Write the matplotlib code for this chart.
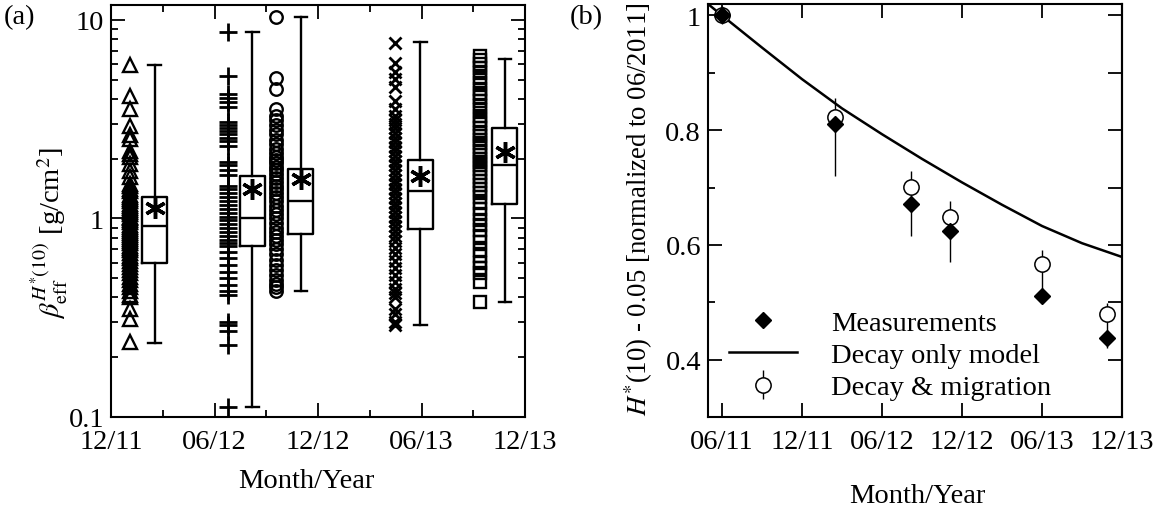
import matplotlib
matplotlib.use('Agg')
import matplotlib.pyplot as plt
from matplotlib.ticker import NullFormatter, LogLocator

plt.rcParams['font.family'] = ['Liberation Serif', 'DejaVu Serif']
plt.rcParams['mathtext.fontset'] = 'stix'

# ---- panel (a): effective depth per survey (x in months since 12/2011) ----
tri_x = 1.1
tri_vals = [5.95, 4.15, 3.57, 2.93, 2.62, 2.52, 2.2, 2.12, 2.05, 1.89, 1.74, 1.62,
            1.5, 1.46, 1.41, 1.37, 1.32, 1.29, 1.25, 1.22, 1.19, 1.16, 1.13, 1.1,
            1.08, 1.05, 1.02, 1.0, 0.98, 0.96, 0.93, 0.91, 0.89, 0.87, 0.85, 0.83,
            0.81, 0.79, 0.77, 0.75, 0.73, 0.71, 0.69, 0.67, 0.65, 0.63, 0.61, 0.59,
            0.57, 0.55, 0.53, 0.51, 0.49, 0.47, 0.45, 0.43, 0.41, 0.40, 0.35, 0.31, 0.24]
plus_x = 6.76
plus_vals = [8.7, 5.2, 4.25, 4.05, 3.85, 3.65, 3.07, 2.95, 2.85, 2.75, 2.65, 2.55,
             2.45, 2.33, 1.93, 1.85, 1.76, 1.65, 1.46, 1.4, 1.34, 1.28, 1.22, 1.17,
             1.12, 1.07, 1.02, 0.98, 0.94, 0.9, 0.86, 0.82, 0.78, 0.75, 0.73, 0.68,
             0.63, 0.58, 0.54, 0.5, 0.46, 0.43, 0.41, 0.30, 0.29, 0.27, 0.23, 0.112]
circ_x = 9.57
circ_vals = [10.3, 5.1, 4.5, 3.57, 3.3, 3.15, 2.95, 2.8, 2.65, 2.5, 2.38, 2.25,
             2.15, 2.05, 1.98, 1.9, 1.82, 1.75, 1.68, 1.6, 1.53, 1.46, 1.4, 1.34,
             1.28, 1.22, 1.16, 1.1, 1.05, 1.0, 0.95, 0.9, 0.86, 0.82, 0.78, 0.74,
             0.7, 0.66, 0.62, 0.58, 0.55, 0.52, 0.49, 0.47, 0.45, 0.43]
cross_x = 16.46
cross_vals = [7.7, 6.1, 5.5, 5.05, 4.6, 3.9, 3.57, 3.3, 3.15, 3.0, 2.85, 2.7,
              2.55, 2.42, 2.3, 2.18, 2.06, 1.95, 1.85, 1.75, 1.66, 1.57, 1.49, 1.41,
              1.34, 1.27, 1.2, 1.14, 1.08, 1.02, 0.97, 0.92, 0.87, 0.82, 0.77, 0.71,
              0.66, 0.61, 0.56, 0.52, 0.48, 0.44, 0.42, 0.40, 0.35, 0.33, 0.30, 0.29]
sq_x = 21.4
sq_vals = [6.6, 6.3, 6.0, 5.7, 5.4, 5.1, 4.8, 4.5, 4.3, 4.1, 3.9, 3.7, 3.5, 3.3,
           3.15, 3.0, 2.85, 2.7, 2.6, 2.5, 2.4, 2.3, 2.2, 2.1, 2.0, 1.92, 1.85,
           1.78, 1.7, 1.62, 1.55, 1.48, 1.41, 1.35, 1.28, 1.2, 1.12, 1.05, 0.98,
           0.93, 0.88, 0.82, 0.76, 0.69, 0.65, 0.6, 0.56, 0.53, 0.48, 0.38]

box_x = [2.53, 8.2, 11.0, 17.93, 22.83]
box_lo = [0.235, 0.112, 0.43, 0.29, 0.38]
box_q1 = [0.594, 0.73, 0.84, 0.89, 1.19]
box_med = [0.92, 1.0, 1.23, 1.37, 1.85]
box_q3 = [1.29, 1.64, 1.78, 1.98, 2.87]
box_hi = [5.94, 8.7, 10.4, 7.75, 6.37]
box_mean = [1.13, 1.41, 1.59, 1.64, 2.17]

a_ticks = [0, 6, 12, 18, 24]
a_labels = ['12/11', '06/12', '12/12', '06/13', '12/13']

# ---- panel (b): normalised dose rate (x in months since 06/2011) ----
b_t = [0, 8.5, 14.2, 17.1, 24.0, 28.9]
meas = [1.0, 0.810, 0.672, 0.624, 0.511, 0.438]
mig = [1.0, 0.823, 0.701, 0.649, 0.567, 0.479]
mig_lo = [0.985, 0.721, 0.616, 0.570, 0.52, 0.420]
mig_hi = [1.017, 0.856, 0.729, 0.676, 0.591, 0.498]
model_t = [-1.05, 0, 3, 6, 9, 12, 15, 18, 21, 24, 27, 30]
model_v = [1.02, 1.0, 0.944, 0.889, 0.838, 0.793, 0.750, 0.709, 0.670, 0.633, 0.603, 0.579]

b_ticks = [0, 6, 12, 18, 24, 30]
b_labels = ['06/11', '12/11', '06/12', '12/12', '06/13', '12/13']
b_right_ticks = [0.4, 0.5, 0.6, 0.7, 0.8, 0.9, 1.0]

FS = 20.5


def style_axes(ax):
    for s in ax.spines.values():
        s.set_linewidth(1.5)
    ax.tick_params(which='both', direction='in', top=True, right=True,
                   labelsize=FS, width=1.3)
    ax.tick_params(which='major', length=10)
    ax.tick_params(which='minor', length=5)
    ax.tick_params(axis='y', pad=5)
    ax.tick_params(axis='x', pad=9)


def plot_depths(ax):
    mk = dict(linestyle='none', color='black', mfc='none', mew=1.7)
    ax.plot([tri_x] * len(tri_vals), tri_vals, marker='^', ms=10, **mk)
    ax.plot([plus_x] * len(plus_vals), plus_vals, marker='+', ms=13, mew=2.0,
            linestyle='none', color='black')
    ax.plot([circ_x] * len(circ_vals), circ_vals, marker='o', ms=9, **mk)
    ax.plot([cross_x] * len(cross_vals), cross_vals, marker='x', ms=9, mew=2.0,
            linestyle='none', color='black')
    ax.plot([sq_x] * len(sq_vals), sq_vals, marker='s', ms=8.5, **mk)

    stats = []
    for i in range(len(box_x)):
        stats.append({'whislo': box_lo[i], 'q1': box_q1[i], 'med': box_med[i],
                      'q3': box_q3[i], 'whishi': box_hi[i], 'mean': box_mean[i],
                      'fliers': []})
    lp = dict(color='black', linewidth=1.7)
    ax.bxp(stats, positions=box_x, widths=1.45, capwidths=0.72, showmeans=True,
           boxprops=lp, whiskerprops=lp, capprops=lp, medianprops=lp,
           meanprops=dict(marker=(6, 2, 0), markersize=15, markeredgecolor='black',
                          markeredgewidth=2.5, linestyle='none'),
           manage_ticks=False)

    ax.set_yscale('log')
    ax.set_ylim(0.1, 11.9)
    ax.set_xlim(0, 24)
    ax.set_yticks([0.1, 1, 10], ['0.1', '1', '10'])
    ax.yaxis.set_minor_locator(LogLocator(base=10, subs=range(2, 10)))
    ax.yaxis.set_minor_formatter(NullFormatter())
    ax.set_xticks(a_ticks, a_labels)
    ax.set_xticks([3, 9, 15, 21], minor=True)
    style_axes(ax)
    ax.set_xlabel('Month/Year', fontsize=FS)
    ax.xaxis.set_label_coords(0.473, -0.125)
    ax.set_ylabel(r'$\beta_{\mathrm{eff}}^{H^{*}(10)}$ [g/cm$^2$]', fontsize=FS)
    ax.yaxis.set_label_coords(-0.1, 0.45)


def plot_dose(ax):
    line, = ax.plot(model_t, model_v, color='black', linewidth=1.8, zorder=2)
    err = [[m - lo for m, lo in zip(mig, mig_lo)], [hi - m for m, hi in zip(mig, mig_hi)]]
    eb = ax.errorbar(b_t, mig, yerr=err, fmt='o', ms=11, mfc='white', mec='black',
                     mew=1.1, ecolor='black', elinewidth=1.0, capsize=0, zorder=3)
    dm, = ax.plot(b_t, meas, linestyle='none', marker='D', ms=8.5, color='black',
                  zorder=4)

    ax.set_xlim(-1.05, 30)
    ax.set_ylim(0.30, 1.02)
    ax.set_xticks(b_ticks, b_labels)
    ax.set_yticks([0.4, 0.6, 0.8, 1.0], ['0.4', '0.6', '0.8', '1'])
    ax.set_yticks([0.5, 0.7, 0.9], minor=True)
    style_axes(ax)
    ax.tick_params(axis='y', which='both', right=False)

    # right edge has all ticks at full length
    sec = ax.secondary_yaxis('right')
    sec.set_yticks(b_right_ticks)
    sec.tick_params(direction='in', length=10, width=1.3, labelright=False)
    sec.spines['right'].set_linewidth(1.5)

    ax.set_xlabel('Month/Year', fontsize=FS)
    ax.xaxis.set_label_coords(0.505, -0.16)
    ax.set_ylabel(r'$H^{*}$(10) - 0.05 [normalized to 06/2011]', fontsize=19.3)
    ax.yaxis.set_label_coords(-0.128, 0.505)

    ax.legend([dm, line, eb], ['Measurements', 'Decay only model', 'Decay & migration'],
              loc='lower left', bbox_to_anchor=(0.05, 0.04), borderaxespad=0,
              borderpad=0, frameon=False, fontsize=FS, handlelength=2.4,
              handletextpad=1.2, labelspacing=0.22)


def main():
    fig = plt.figure(figsize=(11.64, 5.10), dpi=100)
    ax1 = fig.add_axes([111 / 1164, 1 - 418 / 510, 414 / 1164, 412 / 510])
    ax2 = fig.add_axes([708 / 1164, 1 - 418 / 510, 414 / 1164, 413 / 510])
    plot_depths(ax1)
    plot_dose(ax2)
    fig.text(4 / 1164, 1 - 18 / 510, '(a)', fontsize=FS, va='center')
    fig.text(570 / 1164, 1 - 18 / 510, '(b)', fontsize=FS, va='center')
    fig.savefig('out.png', dpi=100)


if __name__ == '__main__':
    main()
